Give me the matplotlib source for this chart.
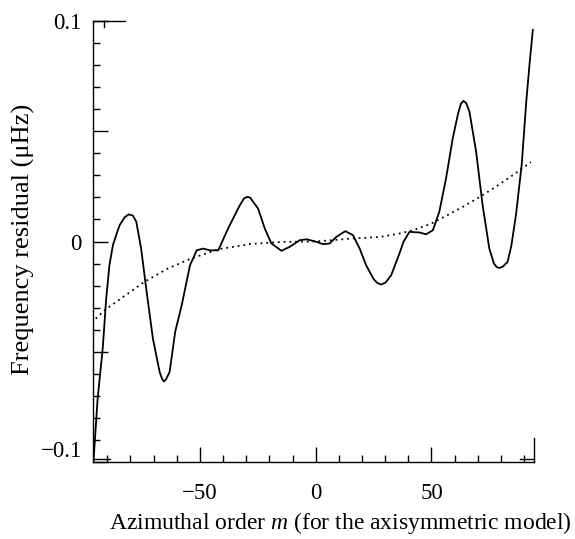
import matplotlib
matplotlib.use("Agg")
import matplotlib.pyplot as plt
from matplotlib.ticker import FixedLocator, FixedFormatter

plt.rcParams['font.family'] = ['Liberation Serif', 'DejaVu Serif']
plt.rcParams['mathtext.fontset'] = 'custom'
plt.rcParams['mathtext.rm'] = 'Liberation Serif'
plt.rcParams['mathtext.it'] = 'Liberation Serif:italic'

# solid curve: frequency residual vs m
m_fit = [-96.0, -94.2, -92.0, -90.5, -89.1, -87.6, -86.0, -84.7, -82.5, -80.8,
         -79.0, -77.5, -75.4, -73.2, -70.3, -67.4, -66.4, -65.6, -64.7, -63.1,
         -60.7, -57.9, -54.3, -51.4, -48.6, -45.7, -42.1, -37.8, -33.0, -31.0,
         -29.5, -28.2, -27.0, -24.9, -22.0, -19.1, -14.8, -11.2, -6.9, -4.0,
         -0.4, 3.2, 6.0, 8.9, 12.8, 16.1, 19.0, 21.8, 25.0, 26.6,
         28.3, 30.2, 32.6, 35.9, 38.0, 40.5, 44.8, 47.7, 50.6, 53.4,
         56.3, 59.2, 61.5, 62.7, 63.8, 65.0, 66.4, 69.3, 72.1, 75.0,
         77.0, 78.2, 79.3, 80.8, 82.9, 84.5, 86.5, 89.0, 91.0, 92.5, 93.8]
resid = [-0.100, -0.0714, -0.0486, -0.026, -0.0108, -0.0017, 0.0035, 0.0074, 0.0110, 0.0123,
         0.0118, 0.0090, -0.0032, -0.0214, -0.0441, -0.0592, -0.0622, -0.0635, -0.0626, -0.0592,
         -0.0410, -0.0290, -0.0108, -0.0040, -0.0032, -0.0040, -0.0040, 0.0060, 0.0160, 0.0195,
         0.0203, 0.0198, 0.0180, 0.0150, 0.0059, -0.0009, -0.0042, -0.0024, 0.0006, 0.0010,
         0.0001, -0.0012, -0.0009, 0.0021, 0.0047, 0.0029, -0.0032, -0.0108, -0.0170, -0.0188,
         -0.0195, -0.0186, -0.0153, -0.0062, 0.0000, 0.0044, 0.0041, 0.0033, 0.0051, 0.0135,
         0.0286, 0.0468, 0.0580, 0.0624, 0.0638, 0.0628, 0.0590, 0.0408, 0.0165, -0.0032,
         -0.0100, -0.0116, -0.0120, -0.0114, -0.0092, -0.0020, 0.0120, 0.0350, 0.0640, 0.0820, 0.0960]

# dotted curve: axisymmetric model
m_mod = [-95, -91, -85, -74, -64, -54, -42, -28, -15, 0,
         15, 28, 36, 42, 50, 57, 64, 71, 78, 85, 93]
model = [-0.035, -0.031, -0.0265, -0.0183, -0.0123, -0.0078, -0.0035, -0.0011, -0.0002, 0.0,
         0.0013, 0.0021, 0.0036, 0.0051, 0.0082, 0.0120, 0.0160, 0.0203, 0.0250, 0.0300, 0.036]

xmin, xmax = -96.2, 94.3
ymin, ymax = -0.1, 0.1

fig = plt.figure(figsize=(5.75, 5.39), dpi=100)
ax = fig.add_axes([0.1617, 0.1429, 0.767, 0.818])

ax.plot(m_fit, resid, color='black', lw=1.3)
ax.plot(m_mod, model, color='black', lw=1.3, linestyle=(0, (1, 2.2)))

ax.set_xlim(xmin, xmax)
ax.set_ylim(ymin, ymax)

for s in ['top', 'right']:
    ax.spines[s].set_visible(False)
for s in ['left', 'bottom']:
    ax.spines[s].set_linewidth(1.0)

ax.xaxis.set_major_locator(FixedLocator([-50, 0, 50]))
ax.xaxis.set_major_formatter(FixedFormatter(['\u221250', '0', '50']))
ax.xaxis.set_minor_locator(FixedLocator([-90, -80, -70, -60, -40, -30, -20, -10,
                                         10, 20, 30, 40, 60, 70, 80, 90]))
ax.yaxis.set_major_locator(FixedLocator([-0.1, -0.05, 0, 0.05, 0.1]))
ax.yaxis.set_major_formatter(FixedFormatter(['\u22120.1', '', '0', '', '0.1']))
ax.yaxis.set_minor_locator(FixedLocator([-0.09, -0.08, -0.07, -0.06, -0.04, -0.03, -0.02, -0.01,
                                         0.01, 0.02, 0.03, 0.04, 0.06, 0.07, 0.08, 0.09]))
ax.tick_params(which='major', direction='in', length=11, width=1.0, labelsize=16.5)
ax.tick_params(which='minor', direction='in', length=5, width=1.0)
ax.tick_params(axis='x', which='major', pad=15)
ax.tick_params(axis='y', which='major', pad=8)
ax.get_yticklabels()[0].set_va('bottom')

# small frame remnants at the corners
ax.plot([xmin, -82.4], [ymax, ymax], color='black', lw=1.0, clip_on=False)
ax.plot([-91.5, -91.5], [ymax, 0.0973], color='black', lw=1.0, clip_on=False)
ax.plot([xmin, -88.9], [-0.0986, -0.0986], color='black', lw=1.0, clip_on=False)
ax.plot([88.4, xmax], [-0.0986, -0.0986], color='black', lw=1.0, clip_on=False)
ax.plot([xmax, xmax], [ymin, -0.089], color='black', lw=1.0, clip_on=False)

fig.text(340 / 575, 1 - 523 / 539, 'Azimuthal order $m$ (for the axisymmetric model)',
         ha='center', va='center', fontsize=17)
fig.text(23 / 575, 1 - 239 / 539, 'Frequency residual (\u03bcHz)',
         ha='center', va='center', rotation=90, fontsize=19)

plt.savefig('out.png', dpi=100)
